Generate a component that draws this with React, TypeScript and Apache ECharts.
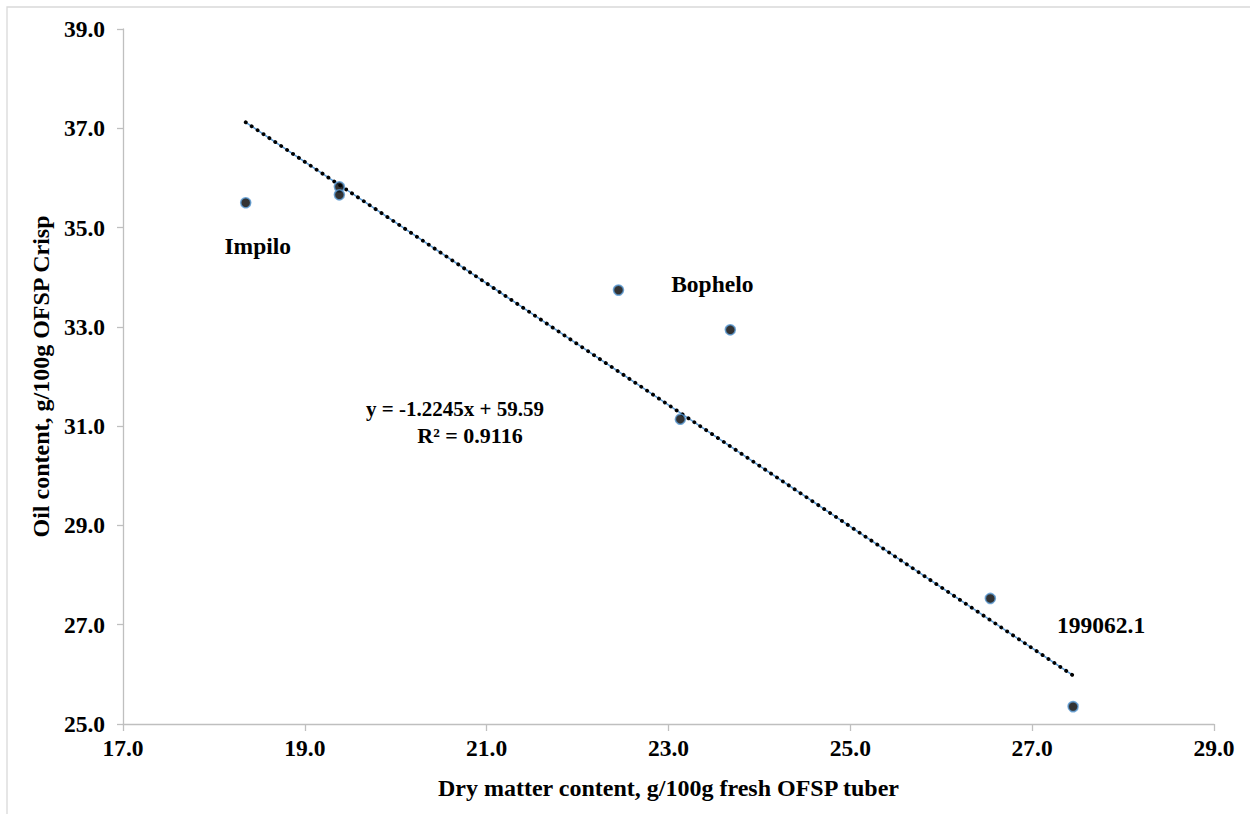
import React, { useEffect, useRef } from "react";
import * as echarts from "echarts";

const dryMatter = [18.35, 19.38, 19.38, 22.45, 23.68, 23.13, 26.54, 27.45];
const oilContent = [35.5, 35.82, 35.66, 33.74, 32.94, 31.14, 27.53, 25.35];
const pointLabels = ["Impilo", "", "", "", "Bophelo", "", "", "199062.1"];
const labelOffsets: [number, number][] = [[12, 43], [0, 0], [0, 0], [0, 0], [-18, -46], [0, 0], [0, 0], [28, -82]];
const slope = -1.2245;
const intercept = 59.59;
const equationText = "y = -1.2245x + 59.59";
const r2Text = "R² = 0.9116";
const xTitle = "Dry matter content, g/100g fresh OFSP tuber";
const yTitle = "Oil content, g/100g OFSP Crisp";

const FONT = "Liberation Serif";
const noBorder = {
  textBorderWidth: 0,
  textBorderColor: "transparent",
  textShadowBlur: 0,
  textShadowColor: "transparent",
  opacity: 1,
};
const labelFont = {
  fontFamily: FONT,
  fontWeight: 700,
  fontStyle: "normal",
  fontSize: 23.5,
  color: "#000",
  ...noBorder,
};

export default function App() {
  const ref = useRef<HTMLDivElement>(null);
  useEffect(() => {
    if (!ref.current) return;
    const chart = echarts.init(ref.current, null, { renderer: "svg" });
    const xMin = Math.min(...dryMatter);
    const xMax = Math.max(...dryMatter);
    const trend = [
      [xMin, slope * xMin + intercept],
      [xMax, slope * xMax + intercept],
    ];
    chart.setOption({
      animation: false,
      backgroundColor: "#fff",
      textStyle: { fontFamily: FONT, fontWeight: "bold", fontSize: 22, color: "#000" },
      grid: { left: 123, right: 36, top: 29, bottom: 90, containLabel: false },
      xAxis: {
        type: "value",
        min: 17,
        max: 29,
        interval: 2,
        name: xTitle,
        nameLocation: "middle",
        nameGap: 52,
        nameTextStyle: { fontFamily: FONT, fontWeight: "bold", fontSize: 24, color: "#000" },
        axisLine: { show: true, lineStyle: { color: "#BFBFBF", width: 1.3 } },
        axisTick: { show: true, length: 7, lineStyle: { color: "#BFBFBF", width: 1.3 } },
        axisLabel: {
          show: true,
          margin: 12,
          ...labelFont,
          formatter: (v: number) => v.toFixed(1),
        },
        splitLine: { show: false },
      },
      yAxis: {
        type: "value",
        min: 25,
        max: 39,
        interval: 2,
        name: yTitle,
        nameLocation: "middle",
        nameGap: 66,
        nameRotate: 90,
        nameTextStyle: { fontFamily: FONT, fontWeight: "bold", fontSize: 24, color: "#000" },
        axisLine: { show: true, lineStyle: { color: "#BFBFBF", width: 1.3 } },
        axisTick: { show: true, length: 6, lineStyle: { color: "#BFBFBF", width: 1.3 } },
        axisLabel: {
          show: true,
          margin: 18,
          ...labelFont,
          formatter: (v: number) => v.toFixed(1),
        },
        splitLine: { show: false },
      },
      graphic: [
        {
          type: "rect",
          shape: { x: 7, y: 7, width: 1300, height: 900 },
          style: { fill: "none", stroke: "#D9D9D9", lineWidth: 1.3 },
          silent: true,
          z: -1,
        },
        {
          type: "text",
          x: 455,
          y: 409,
          style: { text: equationText, font: `bold 21px ${FONT}`, fill: "#000", align: "center", verticalAlign: "middle" },
        },
        {
          type: "text",
          x: 470,
          y: 435,
          style: { text: r2Text, font: `bold 22px ${FONT}`, fill: "#000", align: "center", verticalAlign: "middle" },
        },
      ],
      series: [
        {
          type: "line",
          data: trend,
          showSymbol: false,
          symbol: "none",
          lineStyle: { color: "#5B9BD5", width: 1.5 },
          z: 2,
          silent: true,
        },
        {
          type: "line",
          data: trend,
          showSymbol: false,
          symbol: "none",
          lineStyle: { color: "#000", width: 3.8, type: [0.1, 7], cap: "round" },
          z: 3,
          silent: true,
        },
        {
          type: "scatter",
          symbol: "circle",
          symbolSize: 10,
          itemStyle: { color: "#000", borderColor: "#5B9BD5", borderWidth: 1.6 },
          z: 4,
          data: dryMatter.map((x, i) => ({
            value: [x, oilContent[i]],
            label: pointLabels[i]
              ? {
                  show: true,
                  formatter: pointLabels[i],
                  position: "inside",
                  offset: labelOffsets[i],
                  ...labelFont,
                }
              : { show: false },
          })),
        },
      ],
    });
    return () => chart.dispose();
  }, []);
  return (
    <div
      ref={ref}
      style={{ position: "fixed", left: 0, top: 0, width: 1250, height: 814, background: "#fff" }}
    />
  );
}
